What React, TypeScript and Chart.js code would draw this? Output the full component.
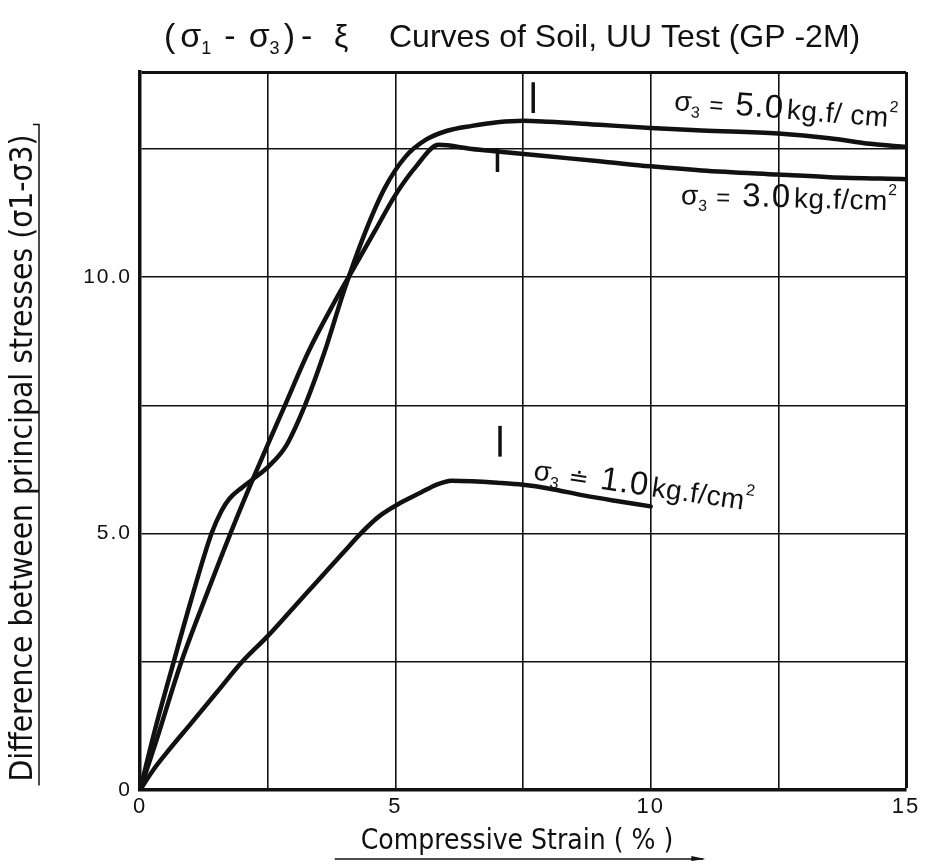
import React, { useEffect, useRef } from "react";
import { Chart, registerables } from "chart.js";

Chart.register(...registerables);

// ---- data (strain %, stress difference) ----
const strain5 = [0, 0.3, 0.66, 1.0, 1.4, 1.6, 1.75, 2.0, 2.21, 2.53, 2.86, 3.25, 3.6, 4.0, 4.4, 4.8, 5.2, 5.6, 6.0, 6.5, 7.0, 7.5, 8.0, 9.0, 10.0, 11.0, 12.5, 13.5, 14.3, 15.0];
const stress5 = [0, 1.2, 2.5, 3.7, 5.0, 5.45, 5.68, 5.9, 6.06, 6.32, 6.71, 7.55, 8.5, 9.75, 10.85, 11.75, 12.35, 12.68, 12.85, 12.95, 13.02, 13.05, 13.03, 12.97, 12.91, 12.86, 12.8, 12.71, 12.6, 12.54];

const strain3 = [0, 0.3, 0.81, 1.3, 1.77, 2.21, 2.53, 2.86, 3.3, 3.8, 4.2, 4.6, 5.0, 5.4, 5.85, 6.5, 7.0, 7.93, 9.0, 10.0, 11.0, 12.5, 13.5, 15.0];
const stress3 = [0, 0.9, 2.5, 3.8, 5.0, 6.06, 6.8, 7.55, 8.55, 9.5, 10.2, 10.9, 11.6, 12.15, 12.58, 12.5, 12.45, 12.36, 12.26, 12.16, 12.08, 12.0, 11.95, 11.91];

const strain1 = [0, 0.26, 0.5, 1.0, 1.5, 2.0, 2.5, 3.0, 3.5, 4.0, 4.32, 4.7, 5.12, 5.5, 5.8, 6.1, 6.5, 7.0, 7.5, 8.0, 8.71, 9.3, 10.0];
const stress1 = [0, 0.39, 0.7, 1.3, 1.9, 2.5, 3.0, 3.55, 4.1, 4.65, 5.0, 5.35, 5.61, 5.8, 5.95, 6.03, 6.02, 5.99, 5.95, 5.88, 5.74, 5.64, 5.53];

// peak marks (short vertical strokes)
const markStrain = [7.7, 7.0, 7.05];
const markLow = [13.2, 12.05, 6.5];
const markHigh = [13.8, 12.5, 7.1];

// tick labels
const xTickLabels: Record<string, string> = { "0": "0", "5": "5", "10": "10", "15": "15" };
const yTickLabels: Record<string, string> = { "0": "0", "5": "5.0", "10": "10.0" };

// curve labels
const labelStrain = [10.45, 10.59, 7.69];
const labelStress = [13.26, 11.42, 6.06];
const labelAngle = [4.5, 1.6, 8.2];
const labelValue = ["5.0", "3.0", "1.0"];
const labelEq = ["=", "=", "≐"];
const labelUnit = ["kg.f/ cm", "kg.f/cm", "kg.f/cm"];

const TITLE_TEXT = "Curves of Soil, UU Test (GP -2M)";
const X_TITLE = "Compressive Strain ( % )";
const Y_TITLE = "Difference between principal stresses (σ1-σ3)";

const NARROW = '"Liberation Sans Narrow", "DejaVu Sans Condensed", "Liberation Sans", sans-serif';
const ROUND = '"Liberation Sans", "DejaVu Sans", sans-serif';

const toPts = (xs: number[], ys: number[]) => xs.map((x, i) => ({ x, y: ys[i] }));

type Part = { t: string; s: number; dy?: number; gap?: number; f?: string; ls?: number };

function drawParts(ctx: CanvasRenderingContext2D, x: number, y: number, angleDeg: number, parts: Part[]) {
  ctx.save();
  ctx.translate(x, y);
  ctx.rotate((angleDeg * Math.PI) / 180);
  ctx.fillStyle = "#111";
  ctx.textBaseline = "alphabetic";
  ctx.textAlign = "left";
  let cx = 0;
  for (const p of parts) {
    ctx.font = `${p.s}px ${p.f || NARROW}`;
    (ctx as any).letterSpacing = `${p.ls || 0}px`;
    ctx.fillText(p.t, cx, p.dy || 0);
    cx += ctx.measureText(p.t).width + (p.gap || 0);
  }
  (ctx as any).letterSpacing = "0px";
  ctx.restore();
}

const decorPlugin = {
  id: "decor",
  beforeDraw(chart: any) {
    (chart.ctx as any).letterSpacing = "2px";
  },
  afterDraw(chart: any) {
    const ctx: CanvasRenderingContext2D = chart.ctx;
    (ctx as any).letterSpacing = "0px";
    const xs = chart.scales.x;
    const ys = chart.scales.y;
    const area = chart.chartArea;

    // title
    drawParts(ctx, 164, 47, 0, [
      { t: "(", s: 34, f: ROUND, gap: 5 },
      { t: "σ", s: 34, f: ROUND },
      { t: "1", s: 18, dy: 7, gap: 13, f: ROUND },
      { t: "-", s: 34, gap: 13, f: ROUND },
      { t: "σ", s: 34, f: ROUND },
      { t: "3", s: 18, dy: 7, gap: 4, f: ROUND },
      { t: ")", s: 34, gap: 6, f: ROUND },
      { t: "-", s: 34, f: ROUND },
    ]);
    drawParts(ctx, 334, 47, 0, [{ t: "ξ", s: 32, f: ROUND }]);
    drawParts(ctx, 389, 47, 0, [{ t: TITLE_TEXT, s: 32, f: ROUND }]);

    // x title
    ctx.save();
    ctx.font = `28px ${NARROW}`;
    ctx.fillStyle = "#111";
    ctx.textAlign = "center";
    ctx.textBaseline = "alphabetic";
    const cx = (area.left + area.right) / 2 - 6;
    ctx.fillText(X_TITLE, cx, 849);
    const w = ctx.measureText(X_TITLE).width;
    ctx.strokeStyle = "#111";
    ctx.lineWidth = 1.5;
    ctx.beginPath();
    ctx.moveTo(cx - w / 2 - 26, 859);
    ctx.lineTo(cx + w / 2 + 30, 859);
    ctx.stroke();
    ctx.beginPath();
    ctx.moveTo(cx + w / 2 + 32, 859);
    ctx.lineTo(cx + w / 2 + 18, 856);
    ctx.lineTo(cx + w / 2 + 18, 861);
    ctx.closePath();
    ctx.fill();
    ctx.restore();

    // y title
    ctx.save();
    ctx.translate(32, 458);
    ctx.rotate(-Math.PI / 2);
    ctx.font = `31.5px ${NARROW}`;
    ctx.fillStyle = "#111";
    ctx.textAlign = "center";
    ctx.textBaseline = "alphabetic";
    ctx.fillText(Y_TITLE, 0, 0);
    const yw = ctx.measureText(Y_TITLE).width;
    ctx.strokeStyle = "#111";
    ctx.lineWidth = 1.5;
    ctx.beginPath();
    ctx.moveTo(-yw / 2 - 4, 7);
    ctx.lineTo(yw / 2 + 10, 7);
    ctx.lineTo(yw / 2 + 10, 1);
    ctx.stroke();
    ctx.restore();

    // curve labels
    for (let i = 0; i < labelValue.length; i++) {
      const px = xs.getPixelForValue(labelStrain[i]);
      const py = ys.getPixelForValue(labelStress[i]);
      drawParts(ctx, px, py, labelAngle[i], [
        { t: "σ", s: 28, f: ROUND },
        { t: "3", s: 16, dy: 6, gap: 9, f: ROUND },
        { t: labelEq[i], s: 24, gap: 12, f: ROUND },
        { t: labelValue[i], s: 33, gap: 3, f: ROUND, ls: 1 },
        { t: labelUnit[i], s: 28, f: ROUND, ls: 0.5 },
        { t: "2", s: 16, dy: -15, f: ROUND },
      ]);
    }
  },
};

export default function App() {
  const ref = useRef<HTMLCanvasElement | null>(null);

  useEffect(() => {
    if (!ref.current) return;
    const curve = (pts: { x: number; y: number }[]) => ({
      data: pts,
      borderColor: "#111",
      borderWidth: 4.5,
      pointRadius: 0,
      fill: false,
      cubicInterpolationMode: "monotone" as const,
      borderCapStyle: "round" as const,
    });
    const marks = markStrain.map((m, i) => ({
      data: [
        { x: m, y: markLow[i] },
        { x: m, y: markHigh[i] },
      ],
      borderColor: "#111",
      borderWidth: 3.5,
      pointRadius: 0,
      fill: false,
    }));

    const gridWidth = (edge: number) => (c: any) => (c.tick && c.tick.value === edge ? 3 : 1.6);

    const chart = new Chart(ref.current, {
      type: "line",
      data: {
        datasets: [
          curve(toPts(strain5, stress5)),
          curve(toPts(strain3, stress3)),
          curve(toPts(strain1, stress1)),
          ...marks,
        ],
      },
      options: {
        animation: false,
        responsive: false,
        maintainAspectRatio: false,
        layout: { padding: { left: 0, top: 72, right: 25, bottom: 0 } },
        plugins: { legend: { display: false }, tooltip: { enabled: false }, title: { display: false } },
        scales: {
          x: {
            type: "linear",
            min: 0,
            max: 15,
            afterFit: (s: any) => {
              s.height = 77;
            },
            ticks: {
              stepSize: 2.5,
              autoSkip: false,
              maxRotation: 0,
              padding: 4,
              color: "#111",
              font: { size: 22, family: ROUND },
              callback: (v: any) => xTickLabels[String(v)] ?? "",
            },
            grid: { color: "#111", lineWidth: gridWidth(15), drawTicks: false },
            border: { display: true, color: "#111", width: 3.5 },
          },
          y: {
            type: "linear",
            min: 0,
            max: 14,
            afterFit: (s: any) => {
              s.width = 140;
            },
            ticks: {
              stepSize: 2.5,
              autoSkip: false,
              padding: 8,
              color: "#111",
              font: { size: 21, family: ROUND },
              callback: (v: any) => yTickLabels[String(v)] ?? "",
            },
            grid: { color: "#111", lineWidth: gridWidth(14), drawTicks: false },
            border: { display: true, color: "#111", width: 3.5 },
          },
        },
      },
      plugins: [decorPlugin],
    });
    return () => chart.destroy();
  }, []);

  return (
    <div style={{ position: "fixed", left: 0, top: 0, width: 931, height: 867, background: "#fff" }}>
      <canvas ref={ref} width={931} height={867} style={{ width: 931, height: 867, display: "block" }} />
    </div>
  );
}
